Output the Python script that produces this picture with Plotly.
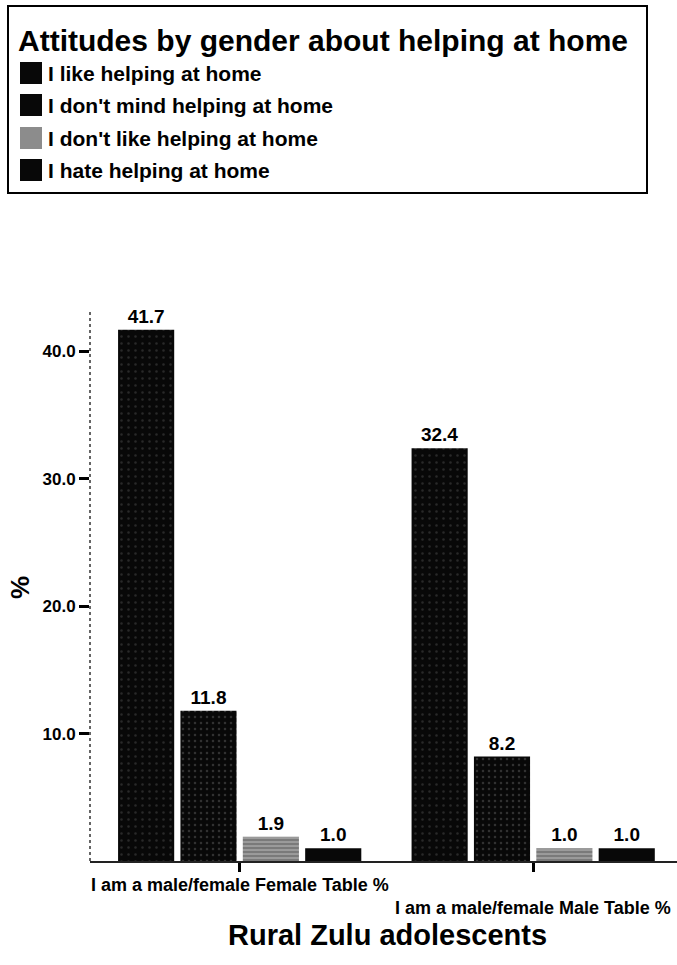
import plotly.graph_objects as go

# Survey results: percentage of rural Zulu adolescents per attitude, by gender
groups = ["I am a male/female Female Table %", "I am a male/female Male Table %"]
attitudes = [
    "I like helping at home",
    "I don't mind helping at home",
    "I don't like helping at home",
    "I hate helping at home",
]
like_vals = [41.7, 32.4]
dont_mind_vals = [11.8, 8.2]
dont_like_vals = [1.9, 1.0]
hate_vals = [1.0, 1.0]
series_vals = [like_vals, dont_mind_vals, dont_like_vals, hate_vals]

y_ticks = [10, 20, 30, 40]
y_tick_text = [f"{v:.1f}" for v in y_ticks]

W, H = 677, 965
M_L, M_R, M_T, M_B = 90, 0, 312, 104
PLOT_W = W - M_L - M_R
PLOT_H = H - M_T - M_B


def px(x):
    """Page pixel x -> paper coordinate."""
    return (x - M_L) / PLOT_W


def py(y):
    """Page pixel y -> paper coordinate."""
    return (H - M_B - y) / PLOT_H


FONT = "Arial, 'Liberation Sans', sans-serif"

# fills per series: dark speckled, dark speckled, grey streaked, solid dark
styles = [
    dict(color="#080808", pattern=dict(shape=".", fgcolor="#4a4a4a", bgcolor="#080808",
                                       size=7, solidity=0.1)),
    dict(color="#080808", pattern=dict(shape=".", fgcolor="#5a5a5a", bgcolor="#080808",
                                       size=6, solidity=0.14)),
    dict(color="#8c8c8c", pattern=dict(shape="-", fgcolor="#e6e6e6", bgcolor="#7a7a7a",
                                       size=4, solidity=0.3)),
    dict(color="#080808"),
]
swatch_colors = ["#080808", "#080808", "#8c8c8c", "#080808"]

fig = go.Figure()
for name, vals, st in zip(attitudes, series_vals, styles):
    fig.add_trace(go.Bar(
        x=groups, y=vals, name=name,
        marker=dict(line=dict(width=0), **st),
        texttemplate="%{y:.1f}", textposition="outside",
        textfont=dict(family=FONT, size=19, color="black", weight="bold"),
        cliponaxis=False, showlegend=False,
    ))

shapes = [
    # legend frame
    dict(type="rect", xref="paper", yref="paper",
         x0=px(8), x1=px(647), y0=py(193), y1=py(6),
         line=dict(color="black", width=2), fillcolor="white", layer="below"),
    # dotted value axis
    dict(type="line", xref="paper", yref="paper", x0=0, x1=0, y0=0, y1=1,
         line=dict(color="#333", width=1.5, dash="dot")),
]
annotations = [
    dict(text="<b>Attitudes by gender about helping at home</b>", xref="paper", yref="paper",
         x=px(16), y=py(40), xanchor="left", yanchor="middle", showarrow=False,
         font=dict(family=FONT, size=30, color="black")),
]

row_y = [73, 105, 138, 170]
for name, ry, sc in zip(attitudes, row_y, swatch_colors):
    shapes.append(dict(type="rect", xref="paper", yref="paper",
                       x0=px(20), x1=px(42), y0=py(ry + 11), y1=py(ry - 11),
                       line=dict(width=0), fillcolor=sc))
    annotations.append(dict(text=f"<b>{name}</b>", xref="paper", yref="paper",
                            x=px(46), y=py(ry), xanchor="left", yanchor="middle",
                            showarrow=False, font=dict(family=FONT, size=21, color="black")))

# staggered category labels under the axis
for i, (g, ly) in enumerate(zip(groups, [885, 908])):
    annotations.append(dict(text=f"<b>{g}</b>", xref="x", yref="paper", x=i, y=py(ly),
                            xanchor="center", yanchor="middle", showarrow=False,
                            font=dict(family=FONT, size=18, color="black")))

annotations.append(dict(text="<b>Rural Zulu adolescents</b>", xref="paper", yref="paper",
                        x=px(388), y=py(935), xanchor="center", yanchor="middle",
                        showarrow=False, font=dict(family=FONT, size=29, color="black")))
annotations.append(dict(text="<b>%</b>", xref="paper", yref="paper",
                        x=px(20), y=py(588), xanchor="center", yanchor="middle",
                        textangle=-90, showarrow=False,
                        font=dict(family=FONT, size=26, color="black")))

fig.update_layout(
    width=W, height=H,
    margin=dict(l=M_L, r=M_R, t=M_T, b=M_B, pad=0),
    paper_bgcolor="white", plot_bgcolor="white",
    barmode="group", bargap=0.15, bargroupgap=0.1,
    shapes=shapes, annotations=annotations,
    xaxis=dict(type="category", range=[-0.51, 1.49], showticklabels=False,
               ticks="outside", ticklen=9, tickwidth=3, tickcolor="black",
               showline=True, linecolor="#222", linewidth=2,
               showgrid=False, zeroline=False),
    yaxis=dict(range=[0, 43.1], tickvals=y_ticks, ticktext=y_tick_text,
               ticks="outside", ticklen=10, tickwidth=3, tickcolor="black",
               tickfont=dict(family=FONT, size=17, color="black", weight="bold"),
               showline=False, showgrid=False, zeroline=False),
    showlegend=False,
)

fig.write_html("out.html")
